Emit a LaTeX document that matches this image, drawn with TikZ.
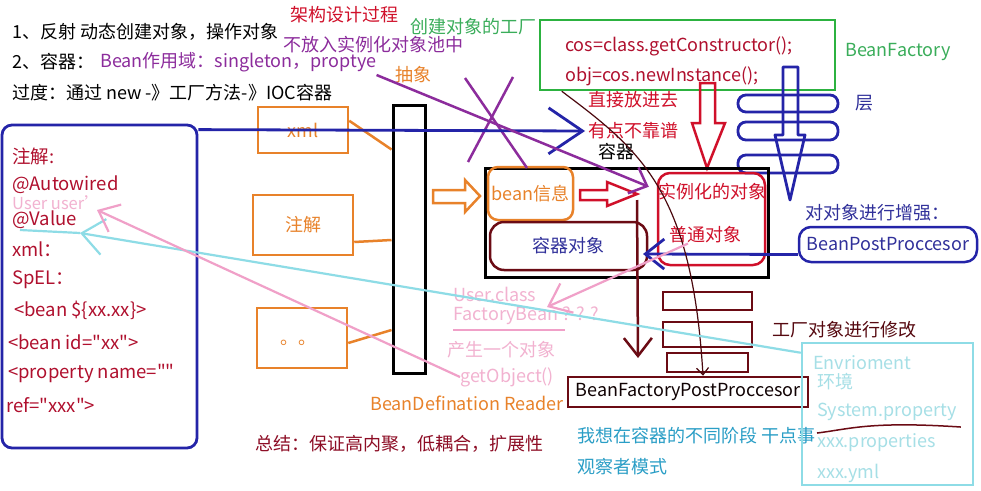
\documentclass[tikz,border=0pt]{standalone}
\usepackage{fontspec}
\setmainfont{Noto Sans CJK SC}
\newfontfamily\plainquotes{Noto Sans CJK SC}
\usetikzlibrary{arrows.meta, positioning}

\definecolor{wbnavy}{HTML}{2424A8}
\definecolor{wbnavytext}{HTML}{30309A}
\definecolor{wbink}{HTML}{B0102E}
\definecolor{wbred}{HTML}{D0102A}
\definecolor{wbmaroon}{HTML}{6B0B14}
\definecolor{wbviolet}{HTML}{8C2C9C}
\definecolor{wbgreen}{HTML}{2CB240}
\definecolor{wbleaf}{HTML}{3AAD5A}
\definecolor{wborange}{HTML}{E8822A}
\definecolor{wbsky}{HTML}{8EDCE6}
\definecolor{wbskytext}{HTML}{A6DFE6}
\definecolor{wbrose}{HTML}{F0A0C8}
\definecolor{wbrosetext}{HTML}{F2B2D0}
\definecolor{wbteal}{HTML}{2A9EC6}

\begin{document}
\begin{tikzpicture}[x=1pt, y=-1pt,
	txt/.style={anchor=west, inner sep=0pt, font=\fontsize{18}{22}\selectfont},
	notetxt/.style={txt, text=wbink, font=\fontsize{18.5}{22}\selectfont},
	codetxt/.style={txt, text=wbink, font=\fontsize{18}{22}\selectfont},
	box/.style={draw, line width=2.5pt, inner sep=0pt},
	bline/.style={wbnavy, line width=2.8pt},
	pline/.style={wbviolet, line width=2.5pt},
	mline/.style={wbmaroon, line width=2.5pt},
	cline/.style={wbsky, line width=2.2pt},
	rline/.style={wbrose, line width=2.2pt},
	oline/.style={wborange, line width=2.5pt},
	]
	\useasboundingbox[fill=white] (0,0) rectangle (981,490);
	
	% TOP - headline notes
	\node[txt] (reflect) at (12,32) {1、反射 动态创建对象，操作对象};
	\node[txt] (ioc) at (12,62) {2、容器：};
	\node[txt, text=wbviolet] (scope) at (100,62) {Bean作用域：singleton，proptye};
	\node[txt] (transit) at (12,93) {过度：通过 new -》工厂方法-》IOC容器};
	\node[txt, text=wbred] (design) at (290,15) {架构设计过程};
	\node[txt, text=wbviolet] (nopool) at (283,45) {不放入实例化对象池中};
	\node[txt, text=wbleaf] (maker) at (410,27) {创建对象的工厂};
	\node[txt, text=wborange] (abstract) at (395,75) {抽象};
	
	% BeanFactory box
	\node[box, draw=wbgreen, minimum width=295pt, minimum height=70pt] (factory) at (687.5,55) {};
	\node[codetxt] (code1) at (565,46) {cos=class.getConstructor();};
	\node[codetxt] (code2) at (565,76) {obj=cos.newInstance();};
	\node[txt, text=wbleaf] (bftxt) at (845,52) {BeanFactory};
	\node[txt, text=wbnavytext] (layer) at (855,103) {层};
	
	% layered blue arrow
	\draw[bline, line join=round] (783,67) -- (798,67) -- (798,135) -- (805,135) -- (790,200)
		-- (775,135) -- (783,135) -- cycle;
	\draw[bline, rounded corners=8pt] (738,95) rectangle (838,112);
	\draw[bline, rounded corners=8pt] (738,122) rectangle (838,140);
	\draw[bline, rounded corners=8pt] (738,155) rectangle (838,173);
	
	% red hollow arrow out of the factory
	\draw[wbred, line width=2.5pt] (700,83) -- (715,83) -- (715,123) -- (725,123) -- (707,168)
		-- (692,123) -- (700,123) -- cycle;
	\node[txt, text=wbred] (direct) at (588,100) {直接放进去};
	\node[txt, text=wbred] (unrel) at (588,131) {有点不靠谱};
	\node[txt] (conttxt) at (598,152) {容器};
	
	% LEFT SIDE - config notes
	\node[box, draw=wbnavy, line width=2.8pt, rounded corners=10pt, minimum width=195pt, minimum height=323pt] (notes) at (99.5,286.5) {};
	\node[notetxt] (anno) at (12,156) {注解:};
	\node[notetxt] (autow) at (12,185) {@Autowired};
	\node[txt, text=wbrosetext, font=\fontsize{16.5}{20}\selectfont] (usertxt) at (12,203) {User user'};
	\node[notetxt] (valtxt) at (12,220) {@Value};
	\node[notetxt] (xmltxt) at (12,249) {xml：};
	\node[notetxt] (speltxt) at (12,280) {SpEL：};
	\node[notetxt] (bean1) at (14,310) {<bean \$\{xx.xx\}>};
	\node[notetxt, font=\plainquotes\fontsize{18.5}{22}\selectfont] (bean2) at (8,342) {<bean id="xx">};
	\node[notetxt, font=\plainquotes\fontsize{18.5}{22}\selectfont] (prop) at (8,374) {<property name=""};
	\node[notetxt, font=\plainquotes\fontsize{18.5}{22}\selectfont] (ref) at (6,405) {ref="xxx">};
	
	% sources and reader
	\node[box, draw=wborange, minimum width=90pt, minimum height=46pt, text=wborange, font=\fontsize{18}{22}\selectfont] (xmlbox) at (303,130) {xml};
	\node[box, draw=wborange, minimum width=100pt, minimum height=60pt, text=wborange, font=\fontsize{18}{22}\selectfont] (annobox) at (303,225) {注解};
	\node[box, draw=wborange, minimum width=90pt, minimum height=60pt] (dotbox) at (302,338) {};
	\node[text=wborange, font=\fontsize{18}{22}\selectfont, inner sep=0pt] (dots) at (298,343) {。。};
	\node[box, draw=black, line width=3pt, minimum width=32pt, minimum height=268pt] (reader) at (409,239) {};
	\node[txt, text=wborange] (readtxt) at (370,403) {BeanDefination Reader};
	\draw[oline] ([yshift=-46pt]reader.north west) -- ([yshift=-15pt]xmlbox.north east);
	\draw[oline] ([yshift=-1pt]reader.west) -- ([yshift=-17pt]annobox.east);
	\draw[oline] ([yshift=-91pt]reader.west) -- ([yshift=-5pt]dotbox.east);
	\draw[oline] (433,190) -- (465,190) -- (465,180) -- (480,196) -- (465,212) -- (465,203)
		-- (433,203) -- cycle;
	
	% container
	\node[box, draw=black, line width=3pt, minimum width=283pt, minimum height=109pt] (container) at (626.5,222.5) {};
	\node[box, draw=wborange, rounded corners=10pt, minimum width=85pt, minimum height=53pt, text=wborange, font=\fontsize{18}{22}\selectfont] (beaninfo) at (530.5,193.5) {bean信息};
	\node[box, draw=wbmaroon, rounded corners=14pt, minimum width=157pt, minimum height=48pt, text=wbnavytext, font=\fontsize{18}{22}\selectfont] (ctxobj) at (568.5,246) {容器对象};
	\node[box, draw=wbred, rounded corners=12pt, minimum width=107pt, minimum height=92pt] (inst) at (711.5,219) {};
	\node[text=wbred, inner sep=0pt, font=\fontsize{18}{22}\selectfont] (insttxt) at (712,192) {实例化的对象};
	\node[text=wbred, inner sep=0pt, font=\fontsize{18}{22}\selectfont] (plain) at (705,235) {普通对象};
	\draw[wbred, line width=2.5pt] (580,190) -- (607,190) -- (607,182) -- (637,194) -- (607,206)
		-- (607,200) -- (580,200) -- cycle;
	
	% post processors
	\node[txt, text=wbnavytext] (enhance) at (805,213) {对对象进行增强：};
	\node[box, draw=wbnavy, rounded corners=12pt, minimum width=178pt, minimum height=35pt, text=wbnavytext, font=\fontsize{18}{22}\selectfont] (bpp) at (888,244.5) {BeanPostProccesor};
	\node[box, draw=wbmaroon, minimum width=89pt, minimum height=18pt] (bar1) at (707.5,301) {};
	\node[box, draw=wbmaroon, minimum width=89pt, minimum height=25pt] (bar2) at (707.5,334.5) {};
	\node[box, draw=wbmaroon, minimum width=81pt, minimum height=19pt] (bar3) at (707.5,362.5) {};
	\node[box, draw=wbmaroon, minimum width=240pt, minimum height=30pt, font=\fontsize{18}{22}\selectfont, text=black!85!wbmaroon] (bfpp) at (688,392) {BeanFactoryPostProccesor};
	\node[txt, text=wbmaroon!80!black] (modify) at (772,330) {工厂对象进行修改};
	\node[txt, text=wbteal] (hope) at (577,436) {我想在容器的不同阶段 干点事};
	\node[txt, text=wbteal] (observer) at (577,467) {观察者模式};
	\node[txt, text=wbink!80!black] (summary) at (255,444) {总结：保证高内聚，低耦合，扩展性};
	
	% environment box
	\node[box, draw=wbsky, minimum width=171pt, minimum height=142pt] (env) at (887.5,414) {};
	\node[txt, text=wbskytext] (envtxt) at (813,363) {Envrioment};
	\node[txt, text=wbskytext] (envcn) at (817,382) {环境};
	\node[txt, text=wbskytext] (sysprop) at (817,412) {System.property};
	\node[txt, text=wbskytext] (props) at (817,443) {xxx.properties};
	\node[txt, text=wbskytext] (yml) at (817,473) {xxx.yml};
	\draw[wbmaroon, line width=1.5pt] ([yshift=-12pt]sysprop.south west) .. controls (850,429) and (870,421) .. ([shift={(4pt,-6pt)}]sysprop.south east);
	
	% pink FactoryBean notes
	\node[txt, text=wbrosetext] (classtxt) at (453,294) {User.class};
	\node[txt, text=wbrosetext] (fbean) at (453,316) {FactoryBean ? ? ?};
	\node[txt, text=wbrosetext] (produce) at (447,350) {产生一个对象};
	\node[txt, text=wbrosetext] (getobj) at (460,377) {getObject()};
	\draw[wbrose, line width=1.5pt] (453,330) -- (565,330);
	
	% cross-out mark
	\draw[pline] (465,78) -- (527,168);
	\draw[pline] (513,77) -- (468,162);
	
	% connectors
	\coordinate (valtip) at (80,233);
	\coordinate (usertip) at (97,210);
	\coordinate (classtip) at (547,307);
	\coordinate (bpptip) at (643,254);
	\coordinate (mtop) at (637,200);
	\coordinate (mtip) at (638,358);
	\draw[bline, -{Straight Barb[length=34pt, width=46pt]}] ([yshift=-6pt]notes.north east) -- ([xshift=-3pt]unrel.west);
	\draw[pline, -{Straight Barb[length=15pt, width=28pt]}] ([shift={(0pt,-3pt)}]scope.south east) -- ([shift={(-8pt,-15pt)}]inst.north west);
	\draw[bline, -{Straight Barb[length=19pt, width=30pt]}] ([yshift=-10pt]bpp.west) -- (bpptip);
	\draw[mline, -{Straight Barb[length=18pt, width=28pt]}] (mtop) -- (mtip);
	\draw[wbmaroon!70!black, line width=1.2pt, -{Straight Barb[length=7pt, width=12pt]}] ([xshift=23pt]factory.south west) .. controls (640,150) and (692,190) .. ([xshift=15pt]bfpp.north);
	\draw[cline, -{Straight Barb[length=22pt, width=36pt]}] ([yshift=-11pt]env.north west) -- (valtip);
	\draw[cline] (20,230) -- (valtip);
	\draw[rline, -{Straight Barb[length=18pt, width=30pt]}] (getobj.west) -- (usertip);
	\draw[rline, -{Straight Barb[length=20pt, width=32pt]}] ([xshift=-17pt]plain.south) -- (classtip);
	
\end{tikzpicture}
\end{document}
